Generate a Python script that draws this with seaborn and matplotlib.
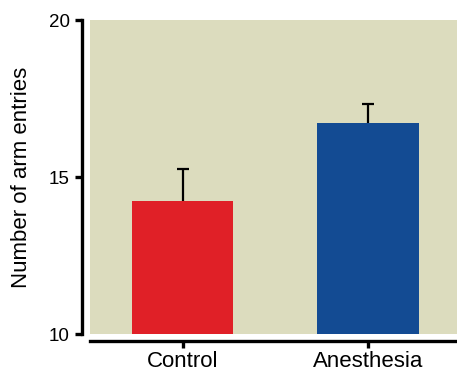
import matplotlib
matplotlib.use("Agg")
import matplotlib.pyplot as plt
import seaborn as sns

# data
groups = ["Control", "Anesthesia"]
means = [14.25, 16.72]
sem = [1.0, 0.62]
bar_colors = ["#E02027", "#134B93"]

sns.set_theme(style="ticks")
plt.rcParams['font.family'] = ['Liberation Sans', 'DejaVu Sans']

fig = plt.figure(figsize=(4.57, 3.71), dpi=100)
ax = fig.add_axes([0.197, 0.099, 0.81, 0.847])
ax.set_facecolor("#DCDCBE")

sns.barplot(x=groups, y=means, hue=groups, palette=bar_colors, legend=False,
            width=0.55, saturation=1, errorbar=None, linewidth=0, ax=ax)
eb = ax.errorbar(x=[0, 1], y=means, yerr=[[0, 0], sem], fmt="none",
                 ecolor="black", elinewidth=1.6, capsize=4.5, capthick=1.6, zorder=1)
# only the upper half of the error bar is shown
eb[1][0].set_visible(False)

ax.set_ylim(10, 20)
ax.set_xlim(-0.5, 1.5)
ax.set_yticks([10, 15, 20])
ax.set_ylabel("Number of arm entries", fontsize=16, color="black", labelpad=12)
ax.set_xlabel("")
ax.tick_params(axis="both", width=2.4, length=5, color="black",
               labelcolor="black", labelsize=13.5)
ax.tick_params(axis="x", labelsize=16, pad=2)

for side in ["top", "right"]:
    ax.spines[side].set_visible(False)
for side in ["left", "bottom"]:
    ax.spines[side].set_linewidth(2.4)
    ax.spines[side].set_color("black")
ax.spines["left"].set_position(("outward", 6))
ax.spines["bottom"].set_position(("outward", 5))

fig.savefig("out.png", dpi=100)
